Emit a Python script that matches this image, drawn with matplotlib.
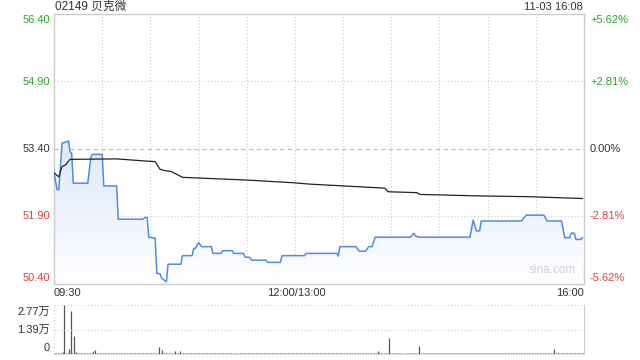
import numpy as np
import matplotlib.pyplot as plt
from matplotlib.patches import Polygon
from matplotlib.colors import LinearSegmentedColormap

plt.rcParams['font.family'] = ['Liberation Sans', 'Noto Sans CJK SC']

title = "02149 贝克微"
stamp = "11-03 16:08"
prev_close = 53.40
price_ticks = [56.40, 54.90, 53.40, 51.90, 50.40]
pct_labels = ["+5.62%", "+2.81%", "0.00%", "-2.81%", "-5.62%"]
time_labels = ["09:30", "12:00/13:00", "16:00"]
vol_labels = ["2.77万", "1.39万", "0"]
vol_max = 27700

# minute index (0..330) and price
price_min = [0, 2, 3, 5, 8, 9, 10, 11, 12, 21, 23, 24, 30, 31, 39, 40, 55, 57, 58, 59,
             63, 64, 66, 67, 70, 71, 79, 80, 86, 87, 88, 90, 92, 98, 99, 104, 105, 111,
             112, 118, 119, 122, 123, 132, 133, 141, 142, 156, 157, 176, 177, 178, 188,
             190, 194, 196, 198, 200, 222, 224, 225, 227, 259, 261, 263, 265, 266, 291,
             294, 305, 307, 316, 318, 321, 322, 324, 325, 328, 329]
price_val = [52.87, 52.49, 52.50, 53.53, 53.56, 53.58, 53.34, 53.30, 52.64, 52.64, 53.23,
             53.28, 53.28, 52.58, 52.58, 51.84, 51.84, 51.88, 51.88, 51.44, 51.42, 50.64,
             50.63, 50.53, 50.45, 50.84, 50.84, 51.03, 51.03, 51.19, 51.19, 51.32, 51.23,
             51.23, 51.08, 51.08, 51.14, 51.14, 51.08, 51.08, 51.00, 50.99, 50.93, 50.93,
             50.88, 50.88, 51.03, 51.03, 51.08, 51.08, 51.02, 51.23, 51.23, 51.13, 51.13,
             51.23, 51.23, 51.44, 51.44, 51.53, 51.47, 51.44, 51.44, 51.82, 51.58, 51.58,
             51.80, 51.80, 51.93, 51.93, 51.80, 51.80, 51.43, 51.43, 51.53, 51.53, 51.39,
             51.39, 51.43]

avg_min = [0, 3, 5, 7, 10, 39, 58, 63, 66, 69, 73, 80, 120, 149, 159, 180, 206, 208,
           226, 228, 240, 261, 296, 329]
avg_val = [52.87, 52.78, 53.01, 53.04, 53.17, 53.18, 53.13, 53.12, 52.95, 52.92, 52.90,
           52.77, 52.71, 52.65, 52.62, 52.58, 52.53, 52.45, 52.43, 52.39, 52.38, 52.36,
           52.34, 52.30]

# small per-minute volumes (shares)
vol_base = [
    500, 800, 600, 400, 700, 1000, 0, 600, 500, 0, 0, 700, 0, 900, 600, 500, 400, 600, 500, 700, 400, 500, 600, 800, 0, 0, 700, 600, 500, 400,
    600, 300, 500, 700, 400, 600, 500, 300, 600, 700, 500, 400, 600, 300, 500, 800, 400, 600, 500, 300, 700, 400, 500, 600, 300, 500, 400, 700, 500, 600,
    400, 500, 300, 600, 700, 0, 500, 0, 600, 400, 700, 500, 300, 600, 500, 0, 400, 600, 0, 500, 300, 600, 400, 500, 700, 300, 500, 400, 600, 500,
    300, 500, 600, 400, 500, 300, 600, 500, 400, 300, 500, 600, 400, 500, 300, 400, 600, 500, 300, 400, 500, 600, 400, 300, 500, 400, 600, 300, 500, 400,
    500, 300, 400, 600, 500, 300, 400, 500, 300, 600, 400, 500, 300, 400, 600, 500, 300, 400, 500, 300, 600, 400, 500, 300, 400, 500, 600, 300, 400, 500,
    400, 300, 500, 400, 600, 300, 500, 400, 300, 500, 600, 400, 300, 500, 400, 600, 300, 500, 400, 300, 500, 400, 600, 300, 500, 400, 300, 600, 500, 400,
    300, 500, 400, 600, 300, 500, 400, 300, 500, 600, 400, 300, 500, 400, 300, 600, 500, 400, 300, 500, 400, 0, 300, 500, 400, 600, 300, 500, 0, 400,
    500, 300, 600, 400, 300, 500, 400, 0, 600, 300, 500, 400, 300, 500, 400, 600, 300, 500, 400, 300, 500, 600, 400, 300, 500, 400, 300, 600, 500, 400,
    300, 500, 400, 600, 300, 500, 400, 300, 500, 600, 400, 300, 500, 400, 300, 600, 500, 400, 300, 500, 400, 600, 300, 500, 400, 300, 500, 400, 600, 300,
    500, 400, 300, 600, 500, 400, 300, 500, 400, 600, 300, 500, 400, 300, 500, 600, 400, 300, 500, 400, 300, 600, 500, 400, 300, 500, 400, 600, 300, 500,
    400, 300, 500, 600, 400, 300, 500, 400, 300, 600, 500, 400, 300, 500, 400, 600, 300, 500, 400, 300, 500, 400, 600, 300, 500, 400, 300, 500, 600, 400,
]
spike_min = [5, 6, 9, 10, 12, 24, 25, 65, 67, 75, 78, 201, 208, 227, 311]
spike_vol = [1000, 27700, 3000, 24100, 10000, 1900, 2400, 3800, 2400, 1900, 1900, 1500, 9000, 4300, 3000]

green = '#22a822'
red = '#f03a3a'
dark = '#333333'
grid_c = '#cccccc'
W, H = 640, 360

fig = plt.figure(figsize=(6.4, 3.6), dpi=100)
ax = fig.add_axes([54 / W, 1 - 284 / H, 530 / W, 270 / H])
axv = fig.add_axes([54 / W, 1 - 354 / H, 530 / W, 49 / H])

# price panel
for m in range(30, 330, 30):
    ax.axvline(m, color=grid_c, lw=0.8, ls=(0, (1, 2)), zorder=0)
for p in price_ticks[1:-1]:
    if p == prev_close:
        ax.axhline(p, color='#bbbbbb', lw=0.8, ls=(0, (4, 3)), zorder=0)
    else:
        ax.axhline(p, color=grid_c, lw=0.8, ls=(0, (1, 2)), zorder=0)

verts = np.column_stack([np.r_[price_min, price_min[-1], price_min[0]],
                         np.r_[price_val, price_ticks[-1], price_ticks[-1]]])
poly = Polygon(verts, closed=True, facecolor='none', edgecolor='none')
ax.add_patch(poly)
cmap = LinearSegmentedColormap.from_list('fade', ['#ffffff', '#dbe7fa'])
grad = np.linspace(1, 0, 256).reshape(-1, 1)
im = ax.imshow(grad, extent=[0, 330, 50.40, 53.70], aspect='auto', cmap=cmap,
               origin='upper', zorder=1)
im.set_clip_path(poly)

ax.plot(price_min, price_val, color='#4f8ae8', lw=1.1, zorder=3)
ax.plot(avg_min, avg_val, color='#222222', lw=0.9, zorder=3)

ax.set_xlim(0, 330)
ax.set_ylim(price_ticks[-1], price_ticks[0])
ax.set_xticks([])
ax.set_yticks([])
for s in ax.spines.values():
    s.set_color(grid_c)
    s.set_linewidth(1)
ax.text(0.985, 0.03, "sina.com", transform=ax.transAxes, ha='right', va='bottom',
        color='#d0d0d0', fontsize=8.5)

# volume panel
vol = np.array(vol_base, dtype=float)
vol[spike_min] = spike_vol
axv.vlines(np.arange(len(vol)) + 0.5, 0, vol, color='#555555', lw=0.9)
axv.axhline(vol_max, color=grid_c, lw=0.8, ls=(0, (1, 2)))
axv.axhline(vol_max / 2, color=grid_c, lw=0.8, ls=(0, (1, 2)))
axv.set_xlim(0, 330)
axv.set_ylim(0, vol_max)
axv.set_xticks([])
axv.set_yticks([])
for k in ['top', 'left']:
    axv.spines[k].set_visible(False)
axv.axvline(0, color=grid_c, lw=0.8, ls=(0, (1, 2)))
axv.spines['right'].set_color(grid_c)
axv.spines['bottom'].set_color('#dddddd')

# texts
fs = 8
fig.text(55 / W, 1 - 7 / H, title, ha='left', va='center', fontsize=8.5, color=dark)
fig.text(583 / W, 1 - 7 / H, stamp, ha='right', va='center', fontsize=8, color=dark)

left_y = [20, 82, 149, 216, 278]
colors = [green, green, dark, red, red]
for p, y, c, pl in zip(price_ticks, left_y, colors, pct_labels):
    fig.text(50 / W, 1 - y / H, f"{p:.2f}", ha='right', va='center', fontsize=fs, color=c)
    fig.text(590 / W, 1 - y / H, pl, ha='left', va='center', fontsize=fs, color=c)

fig.text(54 / W, 1 - 293 / H, time_labels[0], ha='left', va='center', fontsize=fs, color=dark)
fig.text(296 / W, 1 - 293 / H, time_labels[1], ha='center', va='center', fontsize=fs, color=dark)
fig.text(584 / W, 1 - 293 / H, time_labels[2], ha='right', va='center', fontsize=fs, color=dark)

for lab, y in zip(vol_labels, [312, 330, 348]):
    fig.text(50 / W, 1 - y / H, lab, ha='right', va='center', fontsize=fs, color=dark)

fig.savefig('out.png', dpi=100)
